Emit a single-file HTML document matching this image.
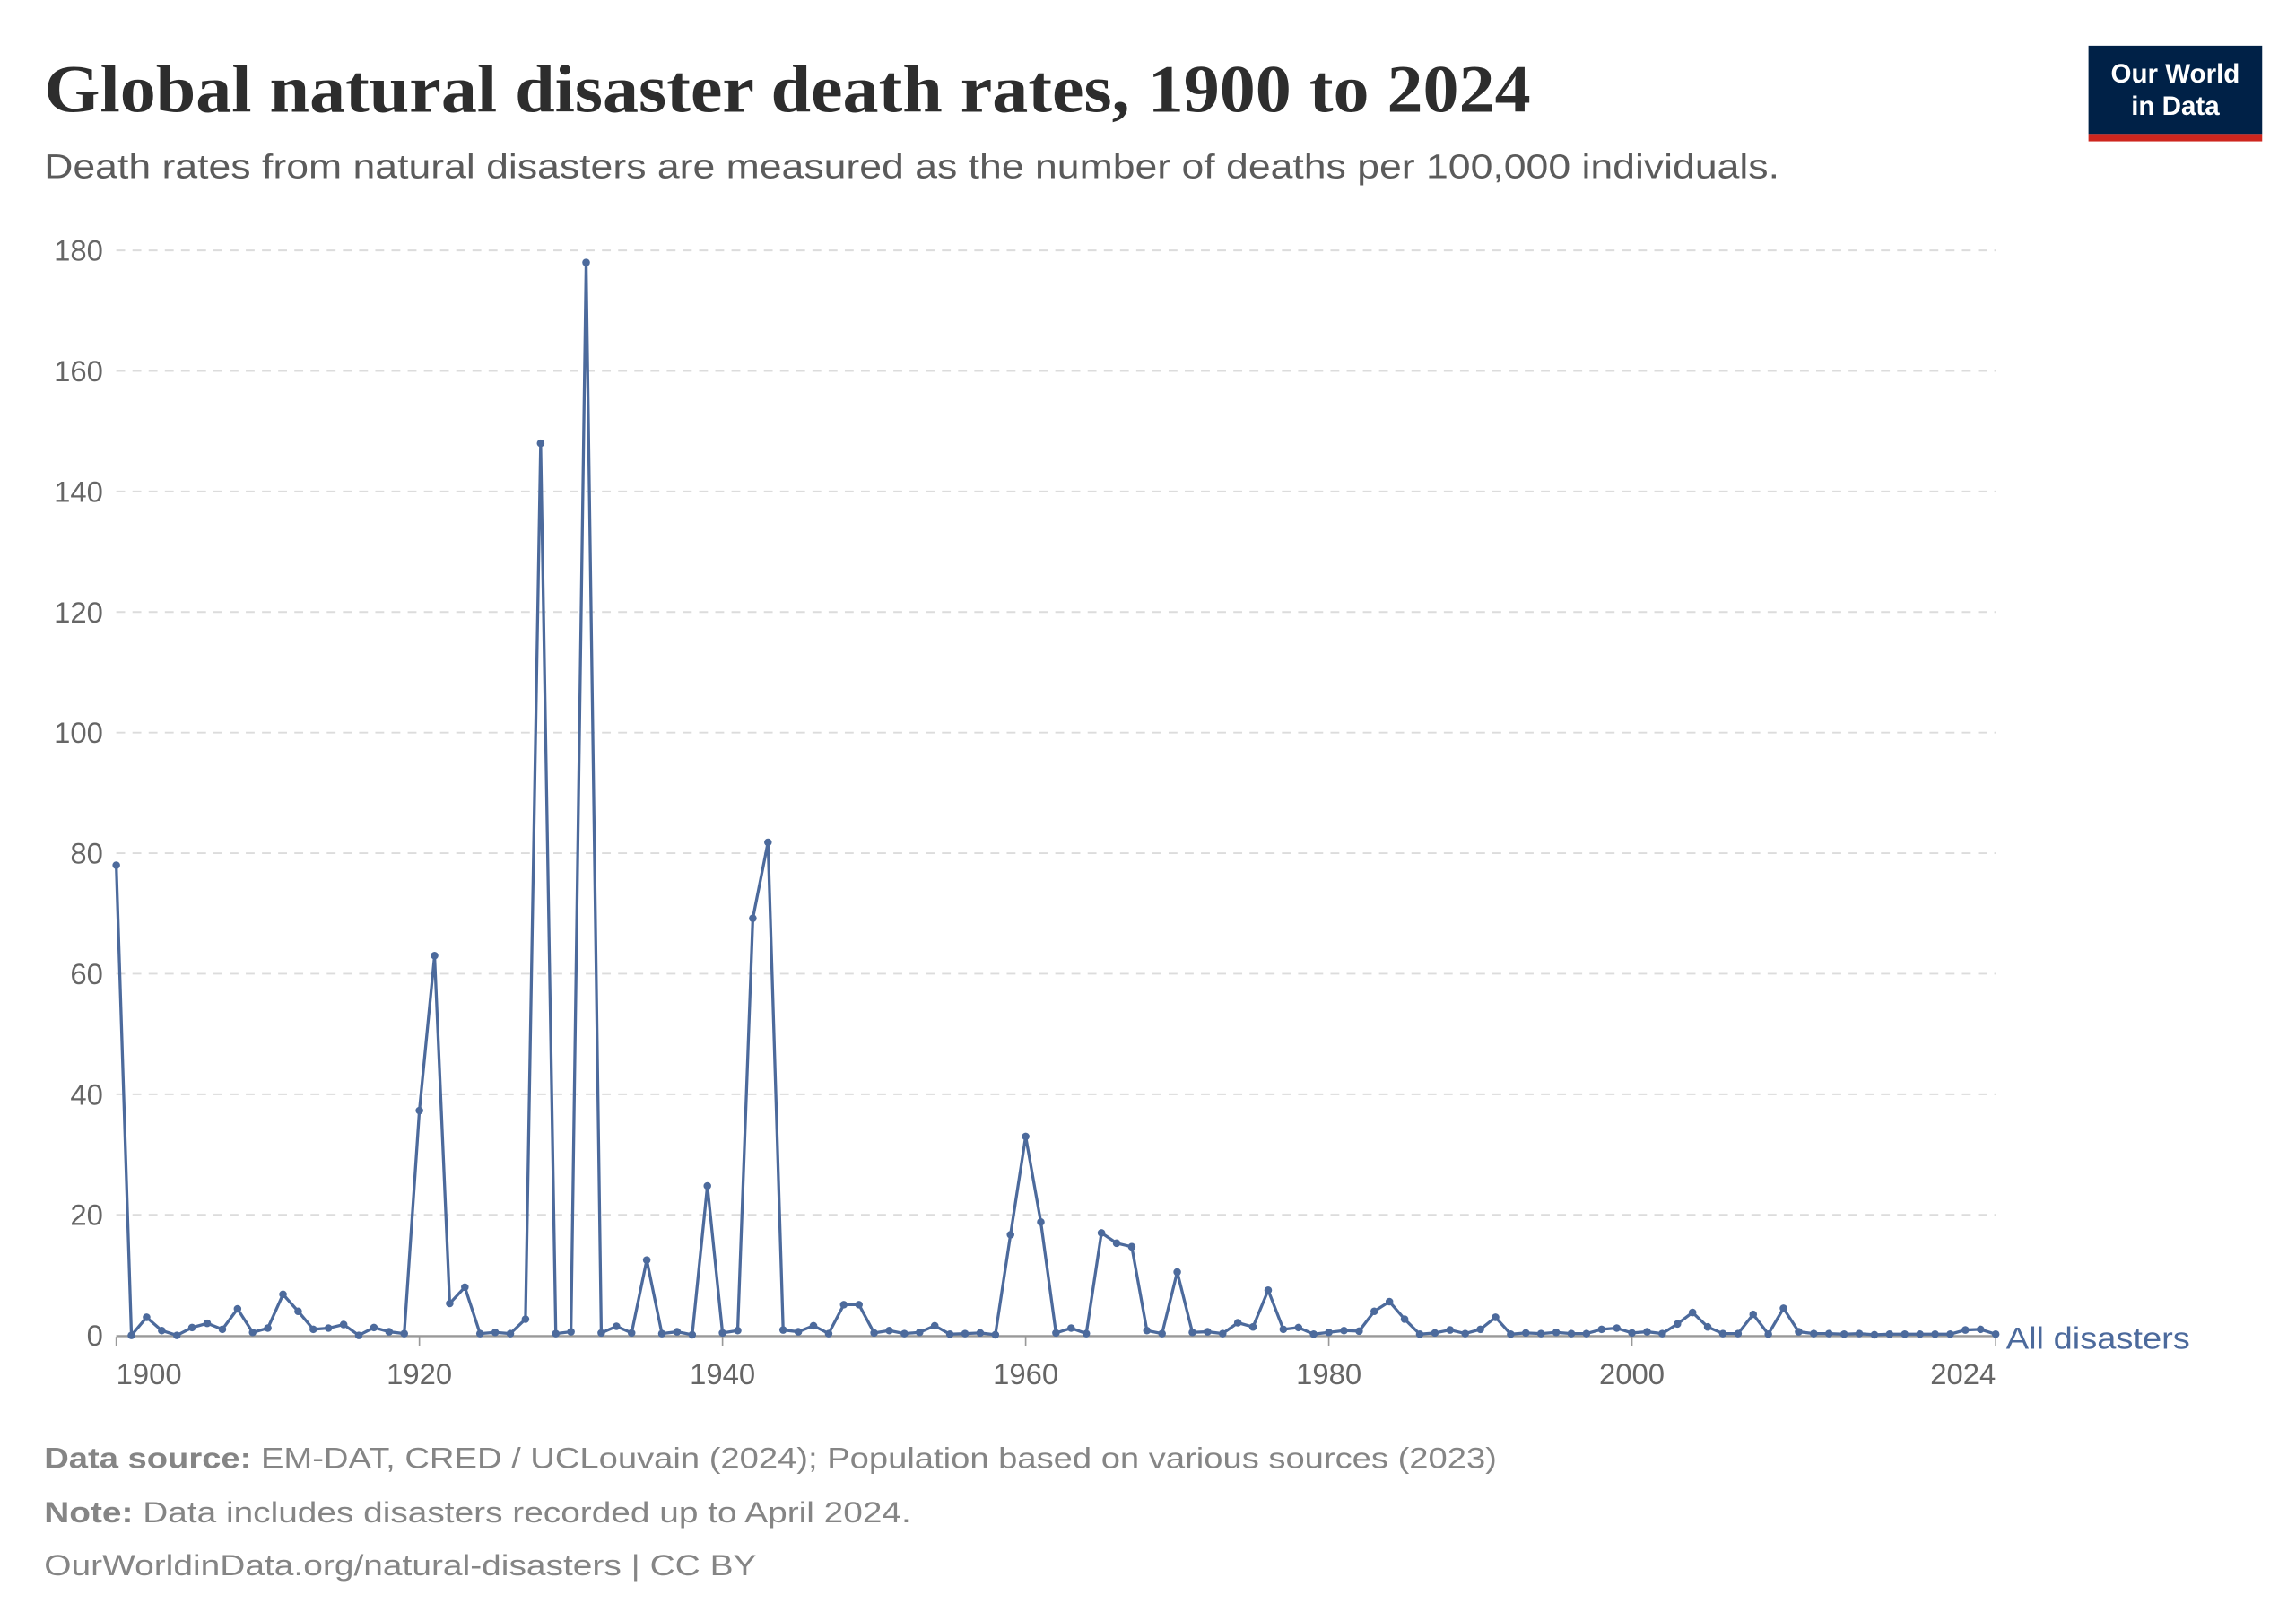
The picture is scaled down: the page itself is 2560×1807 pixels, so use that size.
<!DOCTYPE html>
<html><head><meta charset="utf-8"><style>
html,body{margin:0;padding:0;background:#fff;}
svg{display:block;}
</style></head><body>
<svg id="c" width="2560" height="1807" viewBox="0 0 1560 1101" preserveAspectRatio="none" xmlns="http://www.w3.org/2000/svg">
<rect width="1560" height="1101" fill="#fff"/>
<text x="30" y="76" textLength="1010" lengthAdjust="spacingAndGlyphs" font-family="Liberation Serif, serif" font-weight="bold" font-size="46" fill="#2d2d2d">Global natural disaster death rates, 1900 to 2024</text>
<text x="30" y="121" textLength="1179" lengthAdjust="spacingAndGlyphs" font-family="Liberation Sans, sans-serif" font-size="23" fill="#5b5b5b">Death rates from natural disasters are measured as the number of deaths per 100,000 individuals.</text>
<rect x="1419" y="31" width="118" height="60" fill="#002147"/>
<rect x="1419" y="91" width="118" height="5" fill="#ce261e"/>
<text x="1478" y="56" text-anchor="middle" font-family="Liberation Sans, sans-serif" font-weight="bold" font-size="18" fill="#fff">Our World</text>
<text x="1478" y="78" text-anchor="middle" font-family="Liberation Sans, sans-serif" font-weight="bold" font-size="18" fill="#fff">in Data</text>
<g id="grid"></g>
<g id="plot"></g>
<text x="1363" y="916" textLength="125" lengthAdjust="spacingAndGlyphs" font-family="Liberation Sans, sans-serif" font-size="21" fill="#4c6a9c">All disasters</text>
<text x="30" y="997" textLength="987" lengthAdjust="spacingAndGlyphs" font-family="Liberation Sans, sans-serif" font-size="20" fill="#858585"><tspan font-weight="bold">Data source:</tspan> EM-DAT, CRED / UCLouvain (2024); Population based on various sources (2023)</text>
<text x="30" y="1034" textLength="589" lengthAdjust="spacingAndGlyphs" font-family="Liberation Sans, sans-serif" font-size="20" fill="#858585"><tspan font-weight="bold">Note:</tspan> Data includes disasters recorded up to April 2024.</text>
<text x="30" y="1070" textLength="484" lengthAdjust="spacingAndGlyphs" font-family="Liberation Sans, sans-serif" font-size="20" fill="#858585">OurWorldinData.org/natural-disasters | CC BY</text>
</svg>
<script>
var v=[78,0,3,0.8,0,1.3,2,1,4.4,0.5,1.2,6.8,4,1,1.2,1.8,0,1.3,0.6,0.3,37.3,63,5.3,8,0.3,0.5,0.3,2.7,148,0.3,0.6,178,0.4,1.5,0.4,12.5,0.3,0.6,0.1,24.8,0.4,0.8,69.2,81.8,0.9,0.6,1.6,0.3,5.1,5.1,0.4,0.8,0.3,0.5,1.6,0.2,0.3,0.4,0.1,16.7,33,18.8,0.4,1.2,0.3,17,15.3,14.7,0.8,0.3,10.5,0.5,0.6,0.3,2.1,1.4,7.5,1,1.3,0.2,0.5,0.8,0.7,4,5.6,2.7,0.2,0.4,0.9,0.3,1,3,0.2,0.4,0.3,0.5,0.3,0.3,1,1.2,0.4,0.6,0.3,1.9,3.8,1.4,0.3,0.3,3.5,0.2,4.5,0.6,0.3,0.3,0.2,0.3,0.1,0.2,0.2,0.2,0.2,0.2,0.9,1,0.2];
var NS="http://www.w3.org/2000/svg";
function X(y){return 79+(y-1900)*10.298;}
function Y(d){return 907-d*4.094;}
function el(n,a,p,t){var e=document.createElementNS(NS,n);for(var k in a)e.setAttribute(k,a[k]);if(t!=null)e.textContent=t;p.appendChild(e);return e;}
var g=document.getElementById('grid');
for(var i=1;i<=9;i++){var yy=Y(i*20);el('line',{x1:79,x2:1356,y1:yy,y2:yy,stroke:'#dcdcdc','stroke-width':1.2,'stroke-dasharray':'6,5'},g);}
for(var i=0;i<=9;i++){el('text',{x:70,y:Y(i*20)+7,'text-anchor':'end','font-family':'Liberation Sans, sans-serif','font-size':20,fill:'#666'},g,String(i*20));}
el('line',{x1:79,x2:1356,y1:907.5,y2:907.5,stroke:'#999','stroke-width':1.5},g);
var yrs=[1900,1920,1940,1960,1980,2000,2024];
yrs.forEach(function(y,i){var x=X(y);el('line',{x1:x,x2:x,y1:908,y2:914,stroke:'#999','stroke-width':1},g);
var anc=i==0?'start':(i==6?'end':'middle');var lx=i==0?79:(i==6?1356:x);
el('text',{x:lx,y:940,'text-anchor':anc,'font-family':'Liberation Sans, sans-serif','font-size':20,fill:'#666'},g,String(y));});
var p=document.getElementById('plot');var d='';
v.forEach(function(val,i){d+=(i?'L':'M')+X(1900+i).toFixed(2)+' '+Y(val).toFixed(2);});
el('path',{d:d,fill:'none',stroke:'#4c6a9c','stroke-width':2,'stroke-linejoin':'round'},p);
v.forEach(function(val,i){el('circle',{cx:X(1900+i),cy:Y(val),r:2.6,fill:'#4c6a9c'},p);});
</script>
</body></html>
